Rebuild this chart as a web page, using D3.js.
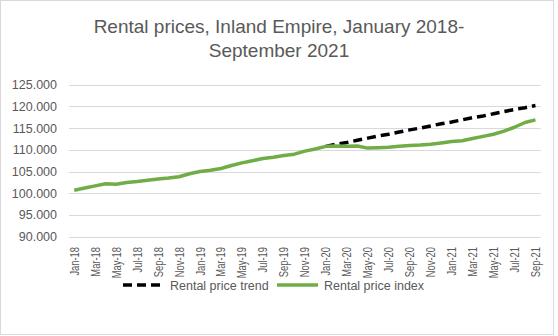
<html>
<head>
<script src="https://d3js.org/d3.v7.min.js"></script>
<style>
  body { margin: 0; background: #fff; }
  text { font-family: "Liberation Sans", "DejaVu Sans", sans-serif; fill: #595959; }
</style>
</head>
<body>
<script>
// month labels Jan-18 .. Sep-21
const monthNames = ["Jan","Feb","Mar","Apr","May","Jun","Jul","Aug","Sep","Oct","Nov","Dec"];
const months = [];
for (let y = 18; y <= 21; y++) {
  for (let m = 0; m < 12; m++) {
    if (y == 21 && m > 8) break;
    months.push(monthNames[m] + "-" + y);
  }
}

// rental price index
const indexValues = [100.7, 101.2, 101.7, 102.2, 102.1, 102.5, 102.7, 103.0, 103.3, 103.5, 103.8, 104.5,
  105.0, 105.3, 105.7, 106.4, 107.0, 107.5, 108.0, 108.3, 108.7, 109.0, 109.7, 110.2,
  110.8, 110.9, 110.8, 110.9, 110.4, 110.5, 110.6, 110.8, 111.0, 111.1, 111.3, 111.6,
  111.9, 112.1, 112.6, 113.1, 113.6, 114.3, 115.2, 116.3, 116.9];

// trend line, starting Jan-20
const trendStart = "Jan-20";
const trendValues = [110.8, 111.3, 111.7, 112.2, 112.7, 113.2, 113.6, 114.1, 114.6, 115.0, 115.5,
  116.0, 116.4, 116.9, 117.4, 117.8, 118.3, 118.8, 119.3, 119.7, 120.2];

const yTicks = [90, 95, 100, 105, 110, 115, 120, 125];

const W = 558, H = 336;
const svg = d3.select("body").append("svg").attr("width", W).attr("height", H);

// chart border
svg.append("rect").attr("x", 0.5).attr("y", 0.5).attr("width", 553).attr("height", 334)
  .attr("fill", "#fff").attr("stroke", "#d9d9d9");

// title
const title = svg.append("text").attr("text-anchor", "middle").attr("font-size", 19);
title.append("tspan").attr("x", 279).attr("y", 33).text("Rental prices, Inland Empire, January 2018-");
title.append("tspan").attr("x", 279).attr("y", 57).text("September 2021");

const x = d3.scaleBand().domain(months).range([69, 540.7]);
const y = d3.scaleLinear().domain([90, 125]).range([236.7, 84.7]);

// grid + y labels
svg.selectAll(".grid").data(yTicks).enter().append("line")
  .attr("x1", 69).attr("x2", 540.7)
  .attr("y1", d => Math.round(y(d)) + 0.5).attr("y2", d => Math.round(y(d)) + 0.5)
  .attr("stroke", "#d9d9d9").attr("stroke-width", 1);

svg.selectAll(".ylab").data(yTicks).enter().append("text")
  .attr("x", 57).attr("y", d => y(d) + 4.5)
  .attr("text-anchor", "end").attr("font-size", 12.5)
  .text(d => d3.format(".3f")(d));

// x labels, every 2nd month (squeezed along the text to mimic the narrow font)
svg.selectAll(".xlab").data(months.filter((d, i) => i % 2 == 0)).enter().append("text")
  .attr("transform", d => "translate(" + (x(d) + x.bandwidth() / 2 + 4.5) + ",247) rotate(-90) scale(0.78,1)")
  .attr("text-anchor", "end").attr("font-size", 12)
  .text(d => d);

const line = d3.line().x(d => x(d.m) + x.bandwidth() / 2).y(d => y(d.v));

const idx = indexValues.map((v, i) => ({m: months[i], v: v}));
const t0 = months.indexOf(trendStart);
const trd = trendValues.map((v, i) => ({m: months[t0 + i], v: v}));

svg.append("path").attr("d", line(trd)).attr("fill", "none")
  .attr("stroke", "#000").attr("stroke-width", 3.5).attr("stroke-dasharray", "9,5");

svg.append("path").attr("d", line(idx)).attr("fill", "none")
  .attr("stroke", "#70ad47").attr("stroke-width", 3.5).attr("stroke-linejoin", "round");

// legend
const lg = svg.append("g");
lg.append("line").attr("x1", 123).attr("x2", 164).attr("y1", 285).attr("y2", 285)
  .attr("stroke", "#000").attr("stroke-width", 3.5).attr("stroke-dasharray", "9,5");
lg.append("text").attr("x", 170).attr("y", 289.5).attr("font-size", 12.5).text("Rental price trend");
lg.append("line").attr("x1", 277).attr("x2", 318).attr("y1", 285).attr("y2", 285)
  .attr("stroke", "#70ad47").attr("stroke-width", 3.5);
lg.append("text").attr("x", 324).attr("y", 289.5).attr("font-size", 12.5).text("Rental price index");
</script>
</body>
</html>
